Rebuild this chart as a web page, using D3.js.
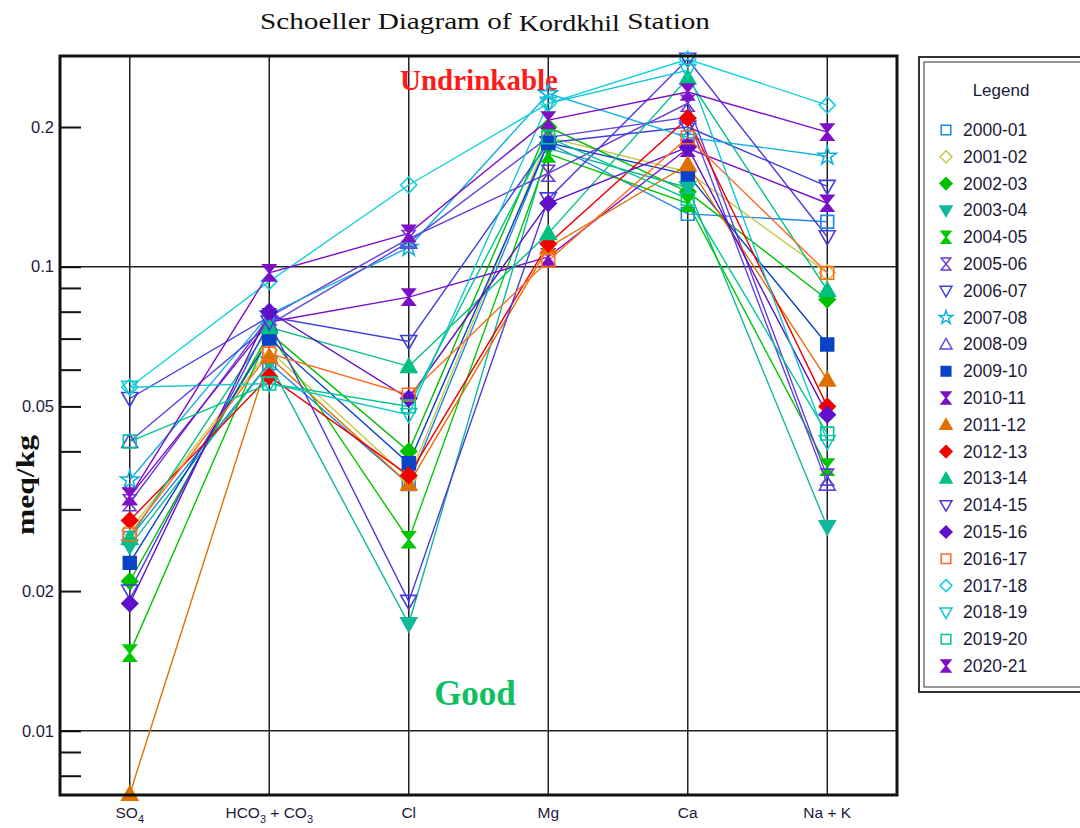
<!DOCTYPE html>
<html>
<head>
<meta charset="utf-8">
<script src="https://cdn.jsdelivr.net/npm/d3@7"></script>
<style>
  html, body { margin: 0; padding: 0; background: #fff; }
  svg { display: block; }
</style>
</head>
<body>
<svg id="chart" width="1080" height="828"></svg>
<script>
// Ion categories along the x axis
const categories = ["SO4", "HCO3 + CO3", "Cl", "Mg", "Ca", "Na + K"];

// Water years (one line per year)
const years = ["2000-01","2001-02","2002-03","2003-04","2004-05","2005-06","2006-07",
  "2007-08","2008-09","2009-10","2010-11","2011-12","2012-13","2013-14","2014-15",
  "2015-16","2016-17","2017-18","2018-19","2019-20","2020-21"];

// Concentrations in meq/kg, order: SO4, HCO3+CO3, Cl, Mg, Ca, Na+K
const v2000_01 = [0.026, 0.062, 0.034, 0.185, 0.130, 0.125];
const v2001_02 = [0.027, 0.066, 0.035, 0.190, 0.160, 0.097];
const v2002_03 = [0.021, 0.072, 0.040, 0.200, 0.145, 0.085];
const v2003_04 = [0.025, 0.062, 0.017, 0.180, 0.148, 0.0275];
const v2004_05 = [0.0147, 0.072, 0.0258, 0.175, 0.137, 0.037];
const v2005_06 = [0.031, 0.078, 0.115, 0.159, 0.225, 0.0352];
const v2006_07 = [0.052, 0.078, 0.069, 0.185, 0.200, 0.149];
const v2007_08 = [0.0347, 0.079, 0.110, 0.236, 0.190, 0.173];
const v2008_09 = [0.042, 0.075, 0.113, 0.190, 0.210, 0.034];
const v2009_10 = [0.023, 0.070, 0.0377, 0.185, 0.158, 0.068];
const v2010_11 = [0.032, 0.076, 0.086, 0.105, 0.180, 0.137];
const v2011_12 = [0.0073, 0.064, 0.034, 0.110, 0.166, 0.057];
const v2012_13 = [0.0284, 0.058, 0.0355, 0.112, 0.209, 0.050];
const v2013_14 = [0.026, 0.074, 0.061, 0.118, 0.255, 0.089];
const v2014_15 = [0.020, 0.076, 0.019, 0.140, 0.280, 0.116];
const v2015_16 = [0.0188, 0.080, 0.052, 0.137, 0.181, 0.048];
const v2016_17 = [0.0265, 0.065, 0.053, 0.103, 0.190, 0.097];
const v2017_18 = [0.055, 0.093, 0.150, 0.225, 0.280, 0.223];
const v2018_19 = [0.055, 0.056, 0.048, 0.225, 0.265, 0.042];
const v2019_20 = [0.042, 0.056, 0.050, 0.190, 0.140, 0.0437];
const v2020_21 = [0.032, 0.097, 0.118, 0.207, 0.238, 0.195];

const seriesValues = [v2000_01, v2001_02, v2002_03, v2003_04, v2004_05, v2005_06, v2006_07,
  v2007_08, v2008_09, v2009_10, v2010_11, v2011_12, v2012_13, v2013_14, v2014_15,
  v2015_16, v2016_17, v2017_18, v2018_19, v2019_20, v2020_21];

// Labelled and unlabelled y ticks
const majorTicks = [0.01, 0.02, 0.05, 0.1, 0.2];
const minorTicks = [0.008, 0.009, 0.03, 0.04, 0.06, 0.07, 0.08, 0.09];
const gridTicks = [0.01, 0.1];

// Marker style per year: shape, filled, colour
const styles = [
  {shape: "square",   fill: false, color: "#1f86e6"},
  {shape: "diamond",  fill: false, color: "#c9c84a"},
  {shape: "diamond",  fill: true,  color: "#00c000"},
  {shape: "tridown",  fill: true,  color: "#10b89c"},
  {shape: "hourglass",fill: true,  color: "#00c800"},
  {shape: "hourglass",fill: false, color: "#6a3ad8"},
  {shape: "tridown",  fill: false, color: "#3f3fe0"},
  {shape: "star",     fill: false, color: "#10b0e0"},
  {shape: "triup",    fill: false, color: "#5a4ae0"},
  {shape: "square",   fill: true,  color: "#0a42c8"},
  {shape: "hourglass",fill: true,  color: "#7a10c8"},
  {shape: "triup",    fill: true,  color: "#e07000"},
  {shape: "diamond",  fill: true,  color: "#f00000"},
  {shape: "triup",    fill: true,  color: "#00c080"},
  {shape: "tridown",  fill: false, color: "#4a3ae0"},
  {shape: "diamond",  fill: true,  color: "#6010c8"},
  {shape: "square",   fill: false, color: "#ff6a20"},
  {shape: "diamond",  fill: false, color: "#10d0e0"},
  {shape: "tridown",  fill: false, color: "#10c8d0"},
  {shape: "square",   fill: false, color: "#00c890"},
  {shape: "hourglass",fill: true,  color: "#8010c8"}
];

const svg = d3.select("#chart");
const plot = {left: 60, right: 897, top: 56, bottom: 795};
const sans = "Arial, 'Liberation Sans', sans-serif";
const serif = "'Liberation Serif', 'Times New Roman', serif";

const x = d3.scalePoint().domain(categories).range([plot.left, plot.right]).padding(0.5);
const y = d3.scaleLog().domain([0.00727, 0.2845]).range([plot.bottom, plot.top]);

// Marker path generator, s = half size
function markerPath(shape, s) {
  switch (shape) {
    case "square":  return `M${-s*0.8},${-s*0.8}H${s*0.8}V${s*0.8}H${-s*0.8}Z`;
    case "diamond": return `M0,${-s}L${s},0L0,${s}L${-s},0Z`;
    case "triup":   return `M0,${-s}L${s},${s*0.75}L${-s},${s*0.75}Z`;
    case "tridown": return `M0,${s}L${s},${-s*0.75}L${-s},${-s*0.75}Z`;
    case "hourglass": return `M${-s*0.8},${-s}L${s*0.8},${-s}L${-s*0.8},${s}L${s*0.8},${s}Z`;
    case "star": return d3.symbol(d3.symbolStar, s * s * 1.6)();
  }
}

// Title
const title = svg.append("text")
  .attr("x", 260).attr("y", 29)
  .attr("textLength", 450).attr("lengthAdjust", "spacingAndGlyphs")
  .style("font-family", serif)
  .style("font-size", "24px").attr("fill", "#111");
title.append("tspan").text("Schoeller Diagram of ");
title.append("tspan").text("Kordkhil").style("font-size", "23px").attr("dy", 2);
title.append("tspan").text(" Station").attr("dy", -2);

// Category grid lines
svg.append("g").selectAll("line").data(categories).join("line")
  .attr("x1", d => x(d)).attr("x2", d => x(d))
  .attr("y1", plot.top).attr("y2", plot.bottom)
  .attr("stroke", "#222").attr("stroke-width", 1.5);

// Horizontal decade lines
svg.append("g").selectAll("line").data(gridTicks).join("line")
  .attr("x1", plot.left).attr("x2", plot.right)
  .attr("y1", d => y(d)).attr("y2", d => y(d))
  .attr("stroke", "#222").attr("stroke-width", 1.5);

// Left axis: ticks point into the plot
const yAxis = d3.axisLeft(y).tickValues(majorTicks)
  .tickFormat(d3.format("~g")).tickSizeInner(-21).tickSizeOuter(0).tickPadding(6);
const gy = svg.append("g").attr("transform", `translate(${plot.left},0)`).call(yAxis);
gy.select(".domain").remove();
gy.selectAll(".tick line").attr("stroke", "#111").attr("stroke-width", 2);
gy.selectAll(".tick text")
  .style("font-family", sans)
  .style("font-size", "16.5px").attr("fill", "#1c1c3a");

const yMinor = d3.axisLeft(y).tickValues(minorTicks).tickFormat("").tickSizeInner(-21).tickSizeOuter(0);
const gm = svg.append("g").attr("transform", `translate(${plot.left},0)`).call(yMinor);
gm.select(".domain").remove();
gm.selectAll(".tick line").attr("stroke", "#111").attr("stroke-width", 2);

// Y axis title
svg.append("text")
  .attr("transform", "translate(34,485) rotate(-90)")
  .attr("text-anchor", "middle")
  .attr("textLength", 100).attr("lengthAdjust", "spacingAndGlyphs")
  .style("font-family", serif)
  .style("font-size", "25px").style("font-weight", "bold")
  .attr("fill", "#111").text("meq/kg");

// X labels with subscript digits
const xl = svg.append("g").selectAll("text").data(categories).join("text")
  .attr("x", d => x(d)).attr("y", 818)
  .attr("text-anchor", "middle")
  .style("font-family", sans)
  .style("font-size", "15.5px").attr("fill", "#1c1c3a");
xl.each(function(d) {
  const t = d3.select(this);
  let lowered = false;
  d.split(/(\d)/).filter(p => p.length).forEach(p => {
    const isSub = /\d/.test(p);
    const ts = t.append("tspan").text(p);
    if (isSub) {
      ts.attr("dy", 5).style("font-size", "11px");
      lowered = true;
    } else if (lowered) {
      ts.attr("dy", -5);
      lowered = false;
    }
  });
});

// Zone labels
svg.append("text").attr("x", 479).attr("y", 90).attr("text-anchor", "middle")
  .style("font-family", serif)
  .style("font-size", "29px").style("font-weight", "bold")
  .attr("fill", "#ff1a1a").text("Undrinkable");
svg.append("text").attr("x", 475).attr("y", 705).attr("text-anchor", "middle")
  .style("font-family", serif)
  .style("font-size", "35px").style("font-weight", "bold")
  .attr("fill", "#10c060").text("Good");

// Series lines
const line = d3.line().x((d, i) => x(categories[i])).y(d => y(d));
const gl = svg.append("g");
seriesValues.forEach((vals, k) => {
  gl.append("path").attr("d", line(vals))
    .attr("fill", "none").attr("stroke", styles[k].color).attr("stroke-width", 1.4);
});

// Series markers
const gp = svg.append("g");
seriesValues.forEach((vals, k) => {
  const st = styles[k];
  gp.selectAll(null).data(vals).join("path")
    .attr("transform", (d, i) => `translate(${x(categories[i])},${y(d)})`)
    .attr("d", markerPath(st.shape, 8))
    .attr("fill", st.fill ? st.color : "none")
    .attr("stroke", st.color).attr("stroke-width", 1.6);
});

// Plot frame
svg.append("rect")
  .attr("x", plot.left).attr("y", plot.top)
  .attr("width", plot.right - plot.left).attr("height", plot.bottom - plot.top)
  .attr("fill", "none").attr("stroke", "#111").attr("stroke-width", 3);

// Legend box with double border
const lg = svg.append("g");
lg.append("rect").attr("x", 919).attr("y", 57).attr("width", 200).attr("height", 635)
  .attr("fill", "#fff").attr("stroke", "#333").attr("stroke-width", 2);
lg.append("rect").attr("x", 924).attr("y", 62).attr("width", 200).attr("height", 625)
  .attr("fill", "none").attr("stroke", "#333").attr("stroke-width", 1);
lg.append("text").attr("x", 1001).attr("y", 96).attr("text-anchor", "middle")
  .style("font-family", sans)
  .style("font-size", "17px").attr("fill", "#1c1c3a").text("Legend");

const ly = d3.scalePoint().domain(years).range([130, 666]);
const items = lg.selectAll("g.item").data(years).join("g")
  .attr("class", "item")
  .attr("transform", d => `translate(0,${ly(d)})`);
items.append("path")
  .attr("transform", "translate(946,0)")
  .attr("d", (d, i) => markerPath(styles[i].shape, 6))
  .attr("fill", (d, i) => styles[i].fill ? styles[i].color : "none")
  .attr("stroke", (d, i) => styles[i].color).attr("stroke-width", 1.5);
items.append("text").attr("x", 963).attr("y", 6)
  .style("font-family", sans)
  .style("font-size", "17.5px").attr("fill", "#1c1c3a").text(d => d);
</script>
</body>
</html>
